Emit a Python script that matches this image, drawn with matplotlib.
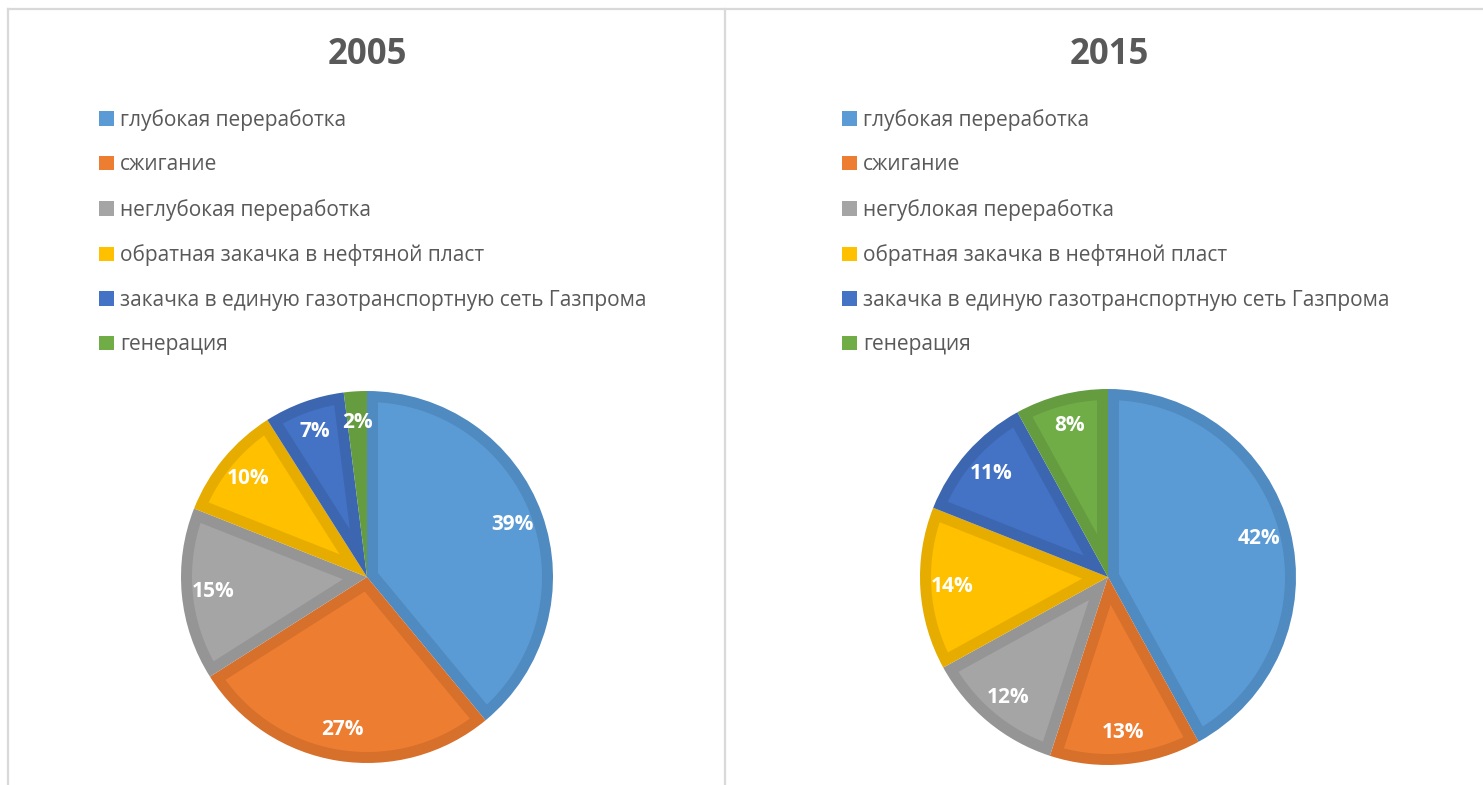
import numpy as np
import matplotlib
matplotlib.use('Agg')
import matplotlib.pyplot as plt
from matplotlib.patches import Patch, Polygon
from matplotlib.lines import Line2D

plt.rcParams['font.family'] = ['Open Sans', 'DejaVu Sans']

categories = ['глубокая переработка', 'сжигание', 'неглубокая переработка',
              'обратная закачка в нефтяной пласт',
              'закачка в единую газотранспортную сеть Газпрома', 'генерация']
# legend of the 2015 chart has the typo of the original
categories_2015 = ['глубокая переработка', 'сжигание', 'негублокая переработка',
                   'обратная закачка в нефтяной пласт',
                   'закачка в единую газотранспортную сеть Газпрома', 'генерация']
years = ['2005', '2015']
shares_2005 = [39, 27, 15, 10, 7, 2]
shares_2015 = [42, 13, 12, 14, 11, 8]

colors = ['#5B9BD5', '#ED7D31', '#A5A5A5', '#FFC000', '#4472C4', '#70AD47']
edges = ['#4F8AC0', '#D6702B', '#959595', '#E6AC00', '#3D66B0', '#649C3F']
text_grey = '#595959'

W, H = 1483, 785
fig = plt.figure(figsize=(W / 100, H / 100), dpi=100)

# pie centres / radii in pixels, legend anchor in pixels
panels = [
    dict(cx=367, cy=577, r=186, leg_x=99, title_x=367),
    dict(cx=1108, cy=577, r=188, leg_x=842, title_x=1109),
]
data = [shares_2005, shares_2015]
labels = [categories, categories_2015]
border_px = 11


def inner_poly(w, d):
    # wedge shrunk by d on every side -> the light part inside the dark border
    a1, a2 = np.radians(w.theta1), np.radians(w.theta2)
    h = (a2 - a1) / 2
    rho = w.r - d
    apex = d / np.sin(h) if h < np.pi / 2 else 0.0
    if apex >= rho:
        return None
    off = np.arcsin(d / rho)
    phi = np.linspace(a1 + off, a2 - off, 100)
    mid = (a1 + a2) / 2
    pts = [(apex * np.cos(mid), apex * np.sin(mid))]
    pts += list(zip(rho * np.cos(phi), rho * np.sin(phi)))
    return np.array(pts)


for p, vals, labs, year in zip(panels, data, labels, years):
    ax = fig.add_axes([(p['cx'] - p['r']) / W, 1 - (p['cy'] + p['r']) / H,
                       2 * p['r'] / W, 2 * p['r'] / H])
    wedges, texts, autotexts = ax.pie(
        vals, colors=edges, startangle=90, counterclock=False,
        autopct='%1.0f%%', pctdistance=0.83,
        wedgeprops=dict(linewidth=0),
        textprops=dict(color='white', fontsize=15, fontweight='bold'))
    d = border_px / p['r']
    for w, c in zip(wedges, colors):
        pts = inner_poly(w, d)
        if pts is not None:
            ax.add_patch(Polygon(pts, closed=True, facecolor=c, edgecolor='none',
                                 zorder=w.get_zorder() + 0.1))
    for t in autotexts:
        t.set_zorder(5)
    ax.set_xlim(-1, 1)
    ax.set_ylim(-1, 1)
    ax.axis('off')

    fig.text(p['title_x'] / W, 1 - 55 / H, year, ha='center', va='center',
             fontsize=25, fontweight='bold', color=text_grey)

    handles = [Patch(facecolor=c, edgecolor='none') for c in colors]
    fig.legend(handles, labs, loc='upper left',
               bbox_to_anchor=(p['leg_x'] / W, 1 - 109 / H),
               frameon=False, borderpad=0, borderaxespad=0,
               handlelength=0.7, handleheight=0.7, handletextpad=0.3,
               labelspacing=1.13, fontsize=15, labelcolor=text_grey)

# frame lines of the surrounding table
line_c = '#D9D9D9'
fig.add_artist(Line2D([8 / W, 1], [1 - 9 / H, 1 - 9 / H], color=line_c, lw=1.6))
fig.add_artist(Line2D([8 / W, 8 / W], [0, 1 - 9 / H], color=line_c, lw=1.6))
fig.add_artist(Line2D([725 / W, 725 / W], [0, 1 - 9 / H], color=line_c, lw=1.6))

fig.savefig('out.png', dpi=100, facecolor='white')
